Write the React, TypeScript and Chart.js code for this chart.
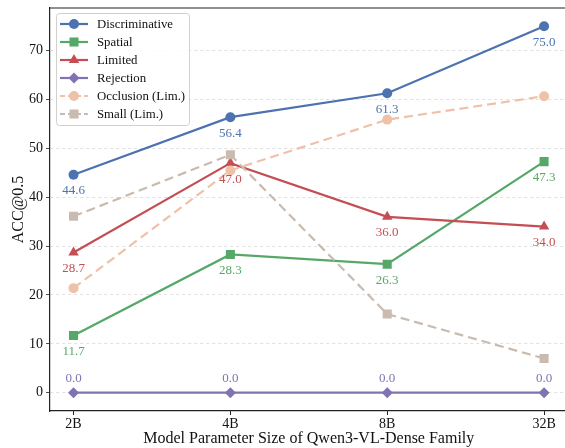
import React, { useEffect, useRef } from "react";
import { Chart, registerables } from "chart.js";

Chart.register(...registerables);

const categories = ["2B", "4B", "8B", "32B"];
const seriesNames = ["Discriminative", "Spatial", "Limited", "Rejection", "Occlusion (Lim.)", "Small (Lim.)"];
const discriminative = [44.6, 56.4, 61.3, 75.0];
const spatial = [11.7, 28.3, 26.3, 47.3];
const limited = [28.7, 47.0, 36.0, 34.0];
const rejection = [0.0, 0.0, 0.0, 0.0];
const occlusion = [21.4, 45.5, 55.9, 60.7];
const small = [36.1, 48.7, 16.1, 7.0];
const yTicks = [0, 10, 20, 30, 40, 50, 60, 70];

const FONT = "'Times New Roman', 'Liberation Serif', serif";

const seriesValues = [discriminative, spatial, limited, rejection, occlusion, small];
const colors = ["#4C72B0", "#55A868", "#C44E52", "#8172B2", "#EEC1A8", "#C9BBAF"];
const markers = ["circle", "rect", "triangle", "rectRot", "circle", "rect"];
const radii = [5, 6.4, 6, 5.5, 5, 6.4];
const dashed = [false, false, false, false, true, true];
const labelled = [true, true, true, true, false, false];
const labelAbove = [false, false, false, true, false, false];

function drawMarker(ctx: CanvasRenderingContext2D, style: string, x: number, y: number, r: number, color: string) {
  ctx.save();
  ctx.fillStyle = color;
  ctx.setLineDash([]);
  ctx.beginPath();
  if (style === "circle") {
    ctx.arc(x, y, r, 0, Math.PI * 2);
  } else if (style === "rect") {
    const s = Math.SQRT1_2 * r;
    ctx.rect(x - s, y - s, 2 * s, 2 * s);
  } else if (style === "triangle") {
    for (let k = 0; k < 3; k++) {
      const a = (k * 2 * Math.PI) / 3;
      const px = x + Math.sin(a) * r;
      const py = y - Math.cos(a) * r;
      if (k === 0) ctx.moveTo(px, py);
      else ctx.lineTo(px, py);
    }
    ctx.closePath();
  } else {
    ctx.moveTo(x, y - r);
    ctx.lineTo(x + r, y);
    ctx.lineTo(x, y + r);
    ctx.lineTo(x - r, y);
    ctx.closePath();
  }
  ctx.fill();
  ctx.restore();
}

const overlayPlugin = {
  id: "overlay",
  beforeDatasetsDraw(chart: any) {
    const { ctx, chartArea } = chart;
    ctx.save();
    ctx.strokeStyle = "#222";
    ctx.lineWidth = 1.2;
    ctx.beginPath();
    ctx.moveTo(chartArea.left, chartArea.top);
    ctx.lineTo(chartArea.right, chartArea.top);
    ctx.lineTo(chartArea.right, chartArea.bottom);
    ctx.stroke();
    ctx.restore();
  },
  afterDatasetsDraw(chart: any) {
    const { ctx } = chart;
    const xs = chart.scales.x;
    const ys = chart.scales.y;
    ctx.save();
    ctx.font = `13px ${FONT}`;
    ctx.textAlign = "center";
    ctx.textBaseline = "middle";
    seriesValues.forEach((vals, i) => {
      if (!labelled[i]) return;
      ctx.fillStyle = colors[i];
      vals.forEach((v, j) => {
        const px = xs.getPixelForValue(j);
        const py = ys.getPixelForValue(v);
        ctx.fillText(v.toFixed(1), px, labelAbove[i] ? py - 14 : py + 16);
      });
    });
    ctx.restore();

    // legend
    const bx = 56.5, by = 13.5, bw = 133, bh = 112;
    ctx.save();
    ctx.fillStyle = "rgba(255,255,255,0.85)";
    ctx.strokeStyle = "#d0d0d0";
    ctx.lineWidth = 1;
    ctx.beginPath();
    if ((ctx as any).roundRect) (ctx as any).roundRect(bx, by, bw, bh, 3);
    else ctx.rect(bx, by, bw, bh);
    ctx.fill();
    ctx.stroke();
    ctx.font = `12.8px ${FONT}`;
    ctx.textBaseline = "middle";
    ctx.textAlign = "left";
    seriesNames.forEach((name, i) => {
      const y = 24 + i * 18;
      ctx.strokeStyle = colors[i];
      ctx.lineWidth = 2.2;
      ctx.setLineDash(dashed[i] ? [5, 3] : []);
      ctx.beginPath();
      ctx.moveTo(60, y);
      ctx.lineTo(88, y);
      ctx.stroke();
      drawMarker(ctx, markers[i], 74, y, radii[i], colors[i]);
      ctx.fillStyle = "#111";
      ctx.fillText(name, 97, y + 1);
    });
    ctx.restore();
  },
};

export default function App() {
  const ref = useRef<HTMLCanvasElement | null>(null);
  useEffect(() => {
    if (!ref.current) return;
    const chart = new Chart(ref.current, {
      type: "line",
      data: {
        datasets: seriesValues.map((vals, i) => ({
          label: seriesNames[i],
          data: vals.map((v, j) => ({ x: j, y: v })),
          borderColor: colors[i],
          backgroundColor: colors[i],
          borderWidth: 2.2,
          borderDash: dashed[i] ? [9, 5] : [],
          pointStyle: markers[i] as any,
          pointRadius: radii[i],
          pointBorderWidth: 0,
          pointBackgroundColor: colors[i],
          fill: false,
          tension: 0,
          order: 10 - i,
        })),
      },
      options: {
        responsive: false,
        animation: false,
        devicePixelRatio: 1,
        layout: { padding: { top: 8, right: 0, left: 0, bottom: 0 } },
        plugins: { legend: { display: false }, tooltip: { enabled: false } },
        scales: {
          x: {
            type: "linear",
            min: -0.15,
            max: 3.15,
            afterBuildTicks: (s: any) => {
              s.ticks = categories.map((_, i) => ({ value: i }));
            },
            afterFit: (s: any) => {
              s.height = 37;
              s.paddingLeft = 0;
              s.paddingRight = 0;
            },
            ticks: {
              callback: (v: any) => categories[v as number] ?? "",
              color: "#111",
              font: { family: FONT, size: 14 },
              padding: 1,
              maxRotation: 0,
            },
            grid: { drawOnChartArea: false, drawTicks: true, tickLength: 4, tickColor: "#222", tickWidth: 1 },
            border: { display: true, color: "#222", width: 1.2 },
            title: {
              display: true,
              text: "Model Parameter Size of Qwen3-VL-Dense Family",
              color: "#111",
              font: { family: FONT, size: 16 },
              padding: { top: 0, bottom: 0 },
            },
          },
          y: {
            type: "linear",
            min: -3.75,
            max: 78.75,
            afterBuildTicks: (s: any) => {
              s.ticks = yTicks.map((v) => ({ value: v }));
            },
            afterFit: (s: any) => {
              s.width = 50;
              s.paddingTop = 0;
              s.paddingBottom = 0;
            },
            ticks: {
              color: "#111",
              font: { family: FONT, size: 14 },
              padding: 3,
            },
            grid: {
              color: "#d8d8d8",
              lineWidth: 0.8,
              drawTicks: true,
              tickLength: 4,
              tickColor: "#222",
              tickBorderDash: [],
            } as any,
            border: { display: true, color: "#222", width: 1.2, dash: [3, 3] } as any,
            title: {
              display: true,
              text: "ACC@0.5",
              color: "#111",
              font: { family: FONT, size: 16 },
              padding: { top: 9, bottom: 0 },
            },
          },
        },
      },
      plugins: [overlayPlugin],
    });
    return () => chart.destroy();
  }, []);
  return (
    <div style={{ position: "absolute", left: 0, top: 0, width: 565, height: 448, overflow: "hidden", background: "#fff" }}>
      <canvas ref={ref} width={574} height={448} />
    </div>
  );
}
